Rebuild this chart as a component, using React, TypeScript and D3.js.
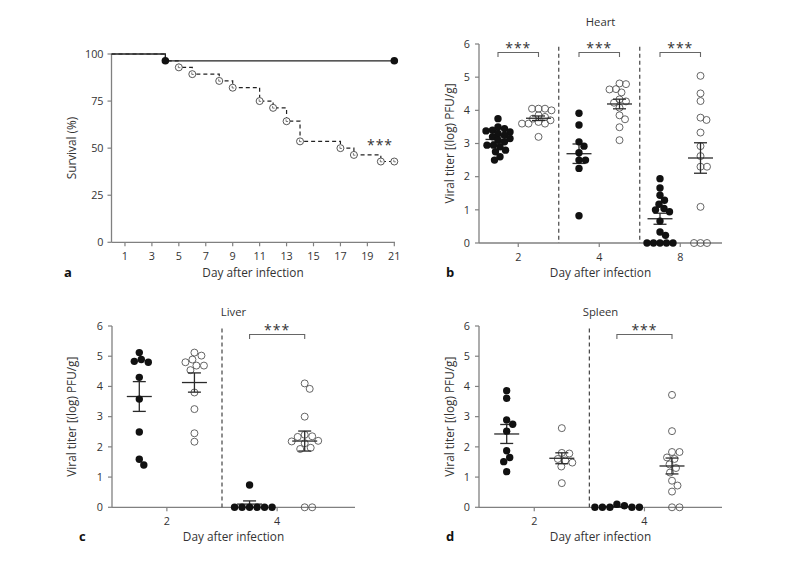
import React from "react";
import * as d3 from "d3";

// ---------- Panel a : survival ----------
const survivalXTicks = [1, 3, 5, 7, 9, 11, 13, 15, 17, 19, 21];
const survivalYTicks = [0, 25, 50, 75, 100];
const filledDays = [0, 4, 21];
const filledSurvival = [100, 96.4, 96.4];
const filledMarkerDays = [4, 21];
const openDays = [0, 4, 5, 6, 8, 9, 11, 12, 13, 14, 17, 18, 20, 21];
const openSurvival = [100, 96.4, 92.9, 89.3, 85.7, 82.1, 75.0, 71.4, 64.3, 53.6, 50.0, 46.4, 42.9, 42.9];
const openMarkerDays = [5, 6, 8, 9, 11, 12, 13, 14, 17, 18, 20, 21];
const survivalSig = "***";

// ---------- Viral titer panels ----------
const titerTicks = [0, 1, 2, 3, 4, 5, 6];

const heartDays = ["2", "4", "8"];
const heartFilled = [
  [3.75, 3.5, 3.45, 3.4, 3.38, 3.35, 3.3, 3.25, 3.2, 3.15, 3.1, 3.05, 2.95, 2.95, 2.9, 2.8, 2.75, 2.6, 2.5],
  [3.91, 3.56, 3.05, 2.92, 2.72, 2.5, 2.5, 2.25, 0.82],
  [1.94, 1.66, 1.44, 1.29, 1.17, 1.04, 1.0, 0.94, 0.66, 0.33, 0.23, 0, 0, 0, 0, 0],
];
const heartOpen = [
  [4.05, 4.05, 4.05, 4.0, 3.85, 3.8, 3.75, 3.7, 3.65, 3.6, 3.6, 3.6, 3.2],
  [4.79, 4.81, 4.63, 4.64, 4.54, 4.33, 4.27, 4.23, 4.08, 3.85, 3.73, 3.49, 3.1],
  [5.04, 4.51, 4.28, 3.78, 3.71, 3.33, 2.92, 2.62, 2.3, 2.3, 1.09, 0, 0, 0],
];
const heartSig = ["***", "***", "***"];

const liverDays = ["2", "4"];
const liverFilled = [
  [5.12, 4.89, 4.83, 4.8, 4.3, 3.58, 2.49, 1.59, 1.4],
  [0.74, 0, 0, 0, 0, 0, 0],
];
const liverOpen = [
  [5.12, 5.02, 4.89, 4.8, 4.69, 4.69, 4.54, 3.8, 3.25, 2.45, 2.17],
  [4.1, 3.92, 3.0, 2.4, 2.35, 2.33, 2.2, 2.18, 2.12, 1.97, 1.93, 0, 0],
];
const liverSig = ["", "***"];

const spleenDays = ["2", "4"];
const spleenFilled = [
  [3.86, 3.61, 2.89, 2.75, 2.52, 1.87, 1.65, 1.51, 1.18],
  [0.1, 0.05, 0, 0, 0, 0, 0],
];
const spleenOpen = [
  [2.62, 1.8, 1.78, 1.6, 1.55, 1.48, 1.35, 0.8],
  [3.72, 2.52, 1.83, 1.83, 1.65, 1.6, 1.42, 1.3, 1.15, 0.88, 0.72, 0.52, 0, 0],
];
const spleenSig = ["", "***"];

const FONT = "'Open Sans', 'DejaVu Sans', sans-serif";
const AXIS = "#808080";
const TEXT = "#333";

function swarm(values: number[], y: (v: number) => number, dist: number) {
  const placed: { py: number; dx: number; v: number }[] = [];
  const sorted = [...values].sort((a, b) => b - a);
  for (const v of sorted) {
    const py = y(v);
    let best = 0;
    for (let k = 0; k < 400; k++) {
      const m = Math.ceil(k / 2) * 0.5;
      const cand = k === 0 ? 0 : k % 2 === 1 ? m : -m;
      if (placed.every((p) => Math.hypot(p.dx - cand, p.py - py) >= dist)) {
        best = cand;
        break;
      }
    }
    placed.push({ py, dx: best, v });
  }
  return placed;
}

function SurvivalPanel() {
  const x = d3.scaleLinear().domain([0, 21]).range([111.5, 394.3]);
  const y = d3.scaleLinear().domain([0, 100]).range([242.3, 54]);
  const line = d3
    .line<[number, number]>()
    .x((d) => x(d[0]))
    .y((d) => y(d[1]))
    .curve(d3.curveStepAfter);
  const filledPts = filledDays.map((d, i) => [d, filledSurvival[i]] as [number, number]);
  const openPts = openDays.map((d, i) => [d, openSurvival[i]] as [number, number]);
  const valAt = (days: number[], vals: number[], d: number) => vals[days.indexOf(d)];
  const x0 = x.range()[0];
  const yb = y(0);
  return (
    <g>
      <line x1={x0} x2={x0} y1={y(100)} y2={yb} stroke={AXIS} strokeWidth={1.3} />
      <line x1={x0} x2={395} y1={yb} y2={yb} stroke={AXIS} strokeWidth={1.3} />
      {survivalYTicks.map((t) => (
        <g key={"yt" + t}>
          <line x1={x0 - 4} x2={x0} y1={y(t)} y2={y(t)} stroke={AXIS} strokeWidth={1.2} />
          <text x={x0 - 8} y={y(t) + 3.8} textAnchor="end" fontSize={10.8} fill={TEXT}>
            {t}
          </text>
        </g>
      ))}
      {survivalXTicks.map((t) => (
        <g key={"xt" + t}>
          <line x1={x(t)} x2={x(t)} y1={yb} y2={yb + 4} stroke={AXIS} strokeWidth={1.2} />
          <text x={x(t)} y={yb + 18} textAnchor="middle" fontSize={10.8} fill={TEXT}>
            {t}
          </text>
        </g>
      ))}
      <text x={253} y={277} textAnchor="middle" fontSize={11.8} fill={TEXT}>
        Day after infection
      </text>
      <text transform={`translate(76,148) rotate(-90)`} textAnchor="middle" fontSize={11.8} fill={TEXT}>
        Survival (%)
      </text>
      <text x={64} y={277} fontSize={13} fontWeight="bold" fill="#111">
        a
      </text>
      <path d={line(openPts) || ""} fill="none" stroke="#222" strokeWidth={1.2} strokeDasharray="4,3" />
      <path d={line(filledPts) || ""} fill="none" stroke="#222" strokeWidth={1.3} />
      {openMarkerDays.map((d) => {
        const cx = x(d);
        const cy = y(valAt(openDays, openSurvival, d));
        return (
          <g key={"om" + d}>
            <circle cx={cx} cy={cy} r={3.5} fill="white" stroke="#444" strokeWidth={0.9} />
            <path d={`M${cx - 0.5},${cy - 1.8}V${cy + 0.3}H${cx + 1.5}`} fill="none" stroke="#444" strokeWidth={0.7} />
          </g>
        );
      })}
      {filledMarkerDays.map((d) => (
        <circle key={"fm" + d} cx={x(d)} cy={y(valAt(filledDays, filledSurvival, d))} r={3.8} fill="#111" />
      ))}
      <text x={380} y={150} textAnchor="middle" fontSize={14} fill={TEXT} letterSpacing={1}>
        {survivalSig}
      </text>
    </g>
  );
}

type DotProps = {
  title: string;
  letter: string;
  days: string[];
  filled: number[][];
  open: number[][];
  sig: string[];
  axisLeft: number;
  axisRight: number;
  top: number;
  bottom: number;
  colStart: number;
  colEnd: number;
  titleY: number;
  bottomTextY: number;
  yLabelX: number;
  dist: number;
};

function DotPanel(p: DotProps) {
  const nCols = p.days.length * 2;
  const y = d3.scaleLinear().domain([0, 6]).range([p.bottom, p.top]);
  const x = d3.scaleLinear().domain([0, nCols - 1]).range([p.colStart, p.colEnd]);
  const groups: { col: number; vals: number[]; filled: boolean }[] = [];
  p.days.forEach((_, i) => {
    groups.push({ col: 2 * i, vals: p.filled[i], filled: true });
    groups.push({ col: 2 * i + 1, vals: p.open[i], filled: false });
  });
  const mid = (p.axisLeft + p.axisRight) / 2;
  const meanSem = (g: { col: number; vals: number[] }) => {
    const cx = x(g.col);
    const m = d3.mean(g.vals) || 0;
    const sem = (d3.deviation(g.vals) || 0) / Math.sqrt(g.vals.length);
    return (
      <g key={"ms" + g.col} stroke="#2a2a2a" strokeWidth={1.3}>
        <line x1={cx - 12.5} x2={cx + 12.5} y1={y(m)} y2={y(m)} />
        <line x1={cx} x2={cx} y1={y(m - sem)} y2={y(m + sem)} />
        <line x1={cx - 6.5} x2={cx + 6.5} y1={y(m + sem)} y2={y(m + sem)} />
        <line x1={cx - 6.5} x2={cx + 6.5} y1={y(m - sem)} y2={y(m - sem)} />
      </g>
    );
  };
  return (
    <g>
      <text x={mid} y={p.titleY} textAnchor="middle" fontSize={11.3} fill={TEXT}>
        {p.title}
      </text>
      <line x1={p.axisLeft} x2={p.axisLeft} y1={y(6)} y2={y(0)} stroke={AXIS} strokeWidth={1.3} />
      <line x1={p.axisLeft} x2={p.axisRight} y1={y(0)} y2={y(0)} stroke={AXIS} strokeWidth={1.3} />
      {titerTicks.map((t) => (
        <g key={"yt" + t}>
          <line x1={p.axisLeft - 4} x2={p.axisLeft} y1={y(t)} y2={y(t)} stroke={AXIS} strokeWidth={1.2} />
          <text x={p.axisLeft - 9} y={y(t) + 3.8} textAnchor="end" fontSize={10.8} fill={TEXT}>
            {t}
          </text>
        </g>
      ))}
      {p.days.map((d, i) => {
        const tx = x(2 * i + 0.5);
        return (
          <g key={"xt" + d}>
            <line x1={tx} x2={tx} y1={y(0)} y2={y(0) + 4} stroke={AXIS} strokeWidth={1.2} />
            <text x={tx} y={y(0) + 18} textAnchor="middle" fontSize={10.8} fill={TEXT}>
              {d}
            </text>
          </g>
        );
      })}
      {p.days.slice(1).map((d, i) => {
        const sx = x(2 * i + 1.5);
        return (
          <line key={"sep" + d} x1={sx} x2={sx} y1={y(5.92)} y2={y(0)} stroke="#444" strokeWidth={1.2} strokeDasharray="4,3" />
        );
      })}
      <text x={mid} y={p.bottomTextY} textAnchor="middle" fontSize={11.8} fill={TEXT}>
        Day after infection
      </text>
      <text
        transform={`translate(${p.yLabelX},${(y(0) + y(6)) / 2}) rotate(-90)`}
        textAnchor="middle"
        fontSize={11.8}
        fill={TEXT}
      >
        Viral titer [(log) PFU/g]
      </text>
      <text x={p.axisLeft - 33} y={p.bottomTextY} fontSize={13} fontWeight="bold" fill="#111">
        {p.letter}
      </text>
      {p.sig.map((s, i) =>
        s ? (
          <g key={"sig" + i}>
            <path
              d={`M${x(2 * i)},${p.top + 13}V${p.top + 8.5}H${x(2 * i + 1)}V${p.top + 13}`}
              fill="none"
              stroke="#666"
              strokeWidth={1.1}
            />
            <text x={(x(2 * i) + x(2 * i + 1)) / 2} y={p.top + 8.8} textAnchor="middle" fontSize={14} fill={TEXT} letterSpacing={1}>
              {s}
            </text>
          </g>
        ) : null
      )}
      {groups.filter((g) => g.filled).map(meanSem)}
      {groups.map((g) => {
        const cx = x(g.col);
        const pts = swarm(g.vals, y, p.dist);
        return (
          <g key={"pts" + g.col}>
            {pts.map((pt, j) =>
              g.filled ? (
                <circle key={j} cx={cx + pt.dx} cy={pt.py} r={3.7} fill="#111" />
              ) : (
                <circle key={j} cx={cx + pt.dx} cy={pt.py} r={3.5} fill="none" stroke="#555" strokeWidth={0.9} />
              )
            )}
          </g>
        );
      })}
      {groups.filter((g) => !g.filled).map(meanSem)}
    </g>
  );
}

export default function App() {
  return (
    <svg
      width={787}
      height={561}
      viewBox="0 0 787 561"
      style={{ position: "absolute", left: 0, top: 0, background: "white" }}
      fontFamily={FONT}
    >
      <rect x={0} y={0} width={787} height={561} fill="white" />
      <SurvivalPanel />
      <DotPanel
        title="Heart"
        letter="b"
        days={heartDays}
        filled={heartFilled}
        open={heartOpen}
        sig={heartSig}
        axisLeft={479}
        axisRight={722}
        top={44}
        bottom={243}
        colStart={498}
        colEnd={700.5}
        titleY={26}
        bottomTextY={277}
        yLabelX={454}
        dist={6.4}
      />
      <DotPanel
        title="Liver"
        letter="c"
        days={liverDays}
        filled={liverFilled}
        open={liverOpen}
        sig={liverSig}
        axisLeft={112}
        axisRight={355}
        top={326}
        bottom={507.3}
        colStart={139.3}
        colEnd={304.7}
        titleY={315.5}
        bottomTextY={541}
        yLabelX={76}
        dist={7.2}
      />
      <DotPanel
        title="Spleen"
        letter="d"
        days={spleenDays}
        filled={spleenFilled}
        open={spleenOpen}
        sig={spleenSig}
        axisLeft={479}
        axisRight={722}
        top={326}
        bottom={507.3}
        colStart={506.7}
        colEnd={672}
        titleY={315.5}
        bottomTextY={541}
        yLabelX={454}
        dist={7.2}
      />
    </svg>
  );
}
